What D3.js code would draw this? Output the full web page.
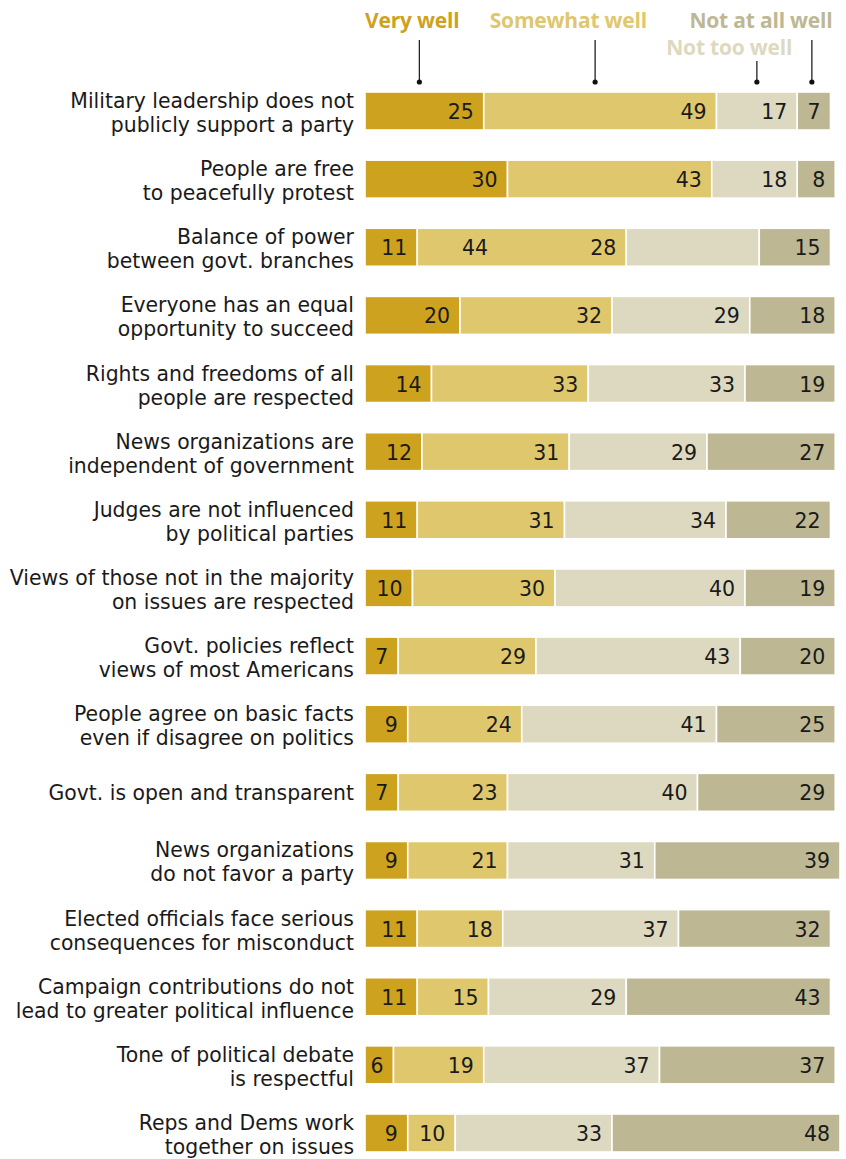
<!DOCTYPE html>
<html>
<head>
<meta charset="utf-8">
<script src="https://cdn.jsdelivr.net/npm/d3@7"></script>
<style>
  html, body { margin: 0; padding: 0; background: #fff; }
  svg { display: block; }
</style>
</head>
<body>
<svg id="chart" width="846" height="1159"></svg>
<script>
// ---------- data ----------
const categories = [
  ["Military leadership does not", "publicly support a party"],
  ["People are free", "to peacefully protest"],
  ["Balance of power", "between govt. branches"],
  ["Everyone has an equal", "opportunity to succeed"],
  ["Rights and freedoms of all", "people are respected"],
  ["News organizations are", "independent of government"],
  ["Judges are not influenced", "by political parties"],
  ["Views of those not in the majority", "on issues are respected"],
  ["Govt. policies reflect", "views of most Americans"],
  ["People agree on basic facts", "even if disagree on politics"],
  ["Govt. is open and transparent"],
  ["News organizations", "do not favor a party"],
  ["Elected officials face serious", "consequences for misconduct"],
  ["Campaign contributions do not", "lead to greater political influence"],
  ["Tone of political debate", "is respectful"],
  ["Reps and Dems work", "together on issues"]
];
const seriesNames = ["Very well", "Somewhat well", "Not too well", "Not at all well"];
const veryWell     = [25, 30, 11, 20, 14, 12, 11, 10,  7,  9,  7,  9, 11, 11,  6,  9];
const somewhatWell = [49, 43, 44, 32, 33, 31, 31, 30, 29, 24, 23, 21, 18, 15, 19, 10];
const notTooWell   = [17, 18, 28, 29, 33, 29, 34, 40, 43, 41, 40, 31, 37, 29, 37, 33];
const notAtAllWell = [ 7,  8, 15, 18, 19, 27, 22, 19, 20, 25, 29, 39, 32, 43, 37, 48];
// the reference shows the "Balance of power" labels at these cumulative points
const balanceRow = 2;
const balanceLabelText = ["11", "44", "28", "15"];
const balanceLabelAt   = [11, 28, 55, 98];

// ---------- layout ----------
const colors = ["#cda21f", "#dfc76d", "#ddd9c0", "#bdb893"];
const FONT = "'DejaVu Sans', sans-serif";
const LEGEND_FONT = "'Open Sans', 'Noto Sans', sans-serif";
const svg = d3.select("#chart");

const x = d3.scaleLinear().domain([0, 100]).range([365, 840]);
const y = d3.scalePoint().domain(d3.range(categories.length)).range([111, 1133]);
const barH = 38;

const rows = categories.map((c, i) => {
  const vals = [veryWell[i], somewhatWell[i], notTooWell[i], notAtAllWell[i]];
  let cum = 0;
  const segs = vals.map((v, k) => {
    const s = { row: i, k, v, x0: cum, x1: cum + v };
    cum += v;
    return s;
  });
  return { i, label: c, segs };
});

// bars
const g = svg.append("g");
const rowG = g.selectAll("g.row").data(rows).join("g").attr("class", "row");

rowG.selectAll("rect").data(d => d.segs).join("rect")
  .attr("x", d => x(d.x0))
  .attr("width", d => x(d.x1) - x(d.x0))
  .attr("y", d => y(d.row) - barH / 2)
  .attr("height", barH)
  .attr("fill", d => colors[d.k])
  .attr("stroke", "#fff")
  .attr("stroke-width", 1.6);

// value labels
rowG.selectAll("text.val").data(d => d.segs).join("text")
  .attr("class", "val")
  .attr("font-family", FONT)
  .attr("font-size", 20.5)
  .attr("fill", "#1a1a1a")
  .attr("y", d => y(d.row) + 8)
  .attr("text-anchor", "end")
  .text(d => d.row === balanceRow ? balanceLabelText[d.k] : d.v)
  .attr("x", function(d) {
    if (d.row === balanceRow) return x(balanceLabelAt[d.k]) - 10;
    const w = this.getComputedTextLength();
    return Math.max(x(d.x1) - 10, x(d.x0) + 5 + w);
  });

// category labels
rowG.append("text")
  .attr("font-family", FONT)
  .attr("font-size", 20.4)
  .attr("fill", "#1a1a1a")
  .attr("text-anchor", "end")
  .each(function(d) {
    const t = d3.select(this);
    const cy = y(d.i);
    const lines = d.label;
    const first = lines.length === 1 ? cy + 8 : cy - 3;
    lines.forEach((ln, j) => {
      t.append("tspan").attr("x", 354).attr("y", first + j * 24).text(ln);
    });
  });

// legend
const first = rows[0].segs;
const mid = s => x((s.x0 + s.x1) / 2);
const legend = [
  { k: 0, tx: x(0), anchor: "start", ty: 28, lineTop: 40, dx: -5 },
  { k: 1, tx: x(first[1].x0) + 6, anchor: "start", ty: 28, lineTop: 40, dx: -5 },
  { k: 2, tx: x(first[2].x1) - 5, anchor: "end", ty: 55, lineTop: 61, dx: 0 },
  { k: 3, tx: x(first[3].x1) + 2, anchor: "end", ty: 28, lineTop: 40, dx: -2 }
];
const lg = svg.append("g");
lg.selectAll("text").data(legend).join("text")
  .attr("x", d => d.tx)
  .attr("y", d => d.ty)
  .attr("text-anchor", d => d.anchor)
  .attr("font-family", LEGEND_FONT)
  .attr("font-weight", 700)
  .attr("font-size", 21)
  .attr("letter-spacing", -0.2)
  .attr("fill", d => colors[d.k])
  .text(d => seriesNames[d.k]);
lg.selectAll("line").data(legend).join("line")
  .attr("x1", d => mid(first[d.k]) + d.dx).attr("x2", d => mid(first[d.k]) + d.dx)
  .attr("y1", d => d.lineTop).attr("y2", 82)
  .attr("stroke", "#222").attr("stroke-width", 1.3);
lg.selectAll("circle").data(legend).join("circle")
  .attr("cx", d => mid(first[d.k]) + d.dx).attr("cy", 82).attr("r", 2.6)
  .attr("fill", "#111");
</script>
</body>
</html>
